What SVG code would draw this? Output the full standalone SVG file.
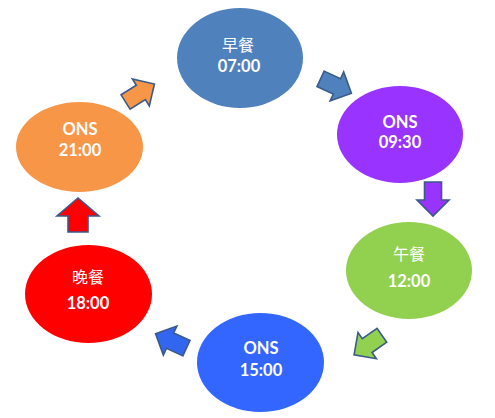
<svg xmlns="http://www.w3.org/2000/svg" width="495" height="418" viewBox="0 0 495 418">
<style>
.cjk{font-family:"Noto Sans CJK SC","Noto Sans CJK TC",sans-serif;font-size:16px;fill:#fff;text-anchor:middle}
.t{font-family:Lato,"Liberation Sans",sans-serif;font-weight:bold;font-size:16.5px;fill:#fff;text-anchor:middle}
.arr{stroke:#3A5A8A;stroke-width:1.6;stroke-linejoin:miter}
</style>
<defs>
<path id="a" d="M -17 -8.5 L 1 -8.5 L 1 -16 L 17 0 L 1 16 L 1 8.5 L -17 8.5 Z"/>
<path id="ab" d="M -17 -10 L -1 -10 L -1 -21 L 17 0 L -1 21 L -1 10 L -17 10 Z"/>
</defs>
<rect width="495" height="418" fill="#fff"/>
<g id="connectors">
<use href="#a" class="arr" fill="#4F81BD" transform="translate(336,86) rotate(25)"/>
<use href="#a" class="arr" fill="#9933FF" transform="translate(433,199) rotate(90)"/>
<use href="#a" class="arr" fill="#92D050" transform="translate(368,345) rotate(145)"/>
<use href="#a" class="arr" fill="#3366EE" transform="translate(171,341) rotate(205)"/>
<use href="#ab" class="arr" fill="#FF0000" transform="translate(78,215) rotate(-90)"/>
<use href="#a" class="arr" fill="#F79646" transform="translate(140,93) rotate(-32)"/>
</g>
<g id="breakfast">
<ellipse cx="240" cy="58" rx="63" ry="50" fill="#4F81BD"/>
<text class="cjk" x="238" y="51">早餐</text>
<text class="t" x="239" y="72">07:00</text>
</g>
<g id="ons0930">
<ellipse cx="400" cy="134.5" rx="63" ry="48.5" fill="#9933FF"/>
<text class="t" x="400" y="127.5">ONS</text>
<text class="t" x="400" y="147.5">09:30</text>
</g>
<g id="lunch">
<ellipse cx="409" cy="270.5" rx="63" ry="48.5" fill="#92D050"/>
<text class="cjk" x="409" y="260">午餐</text>
<text class="t" x="409" y="287">12:00</text>
</g>
<g id="ons1500">
<ellipse cx="260.5" cy="362.5" rx="63.5" ry="49.5" fill="#3366FF"/>
<text class="t" x="261" y="354">ONS</text>
<text class="t" x="261" y="376">15:00</text>
</g>
<g id="dinner">
<ellipse cx="88.5" cy="294" rx="63.5" ry="49" fill="#FF0000"/>
<text class="cjk" x="88" y="283">晚餐</text>
<text class="t" x="88" y="309">18:00</text>
</g>
<g id="ons2100">
<ellipse cx="79.5" cy="147" rx="63.5" ry="45" fill="#F79646"/>
<text class="t" x="80" y="135">ONS</text>
<text class="t" x="80" y="156">21:00</text>
</g>
</svg>
